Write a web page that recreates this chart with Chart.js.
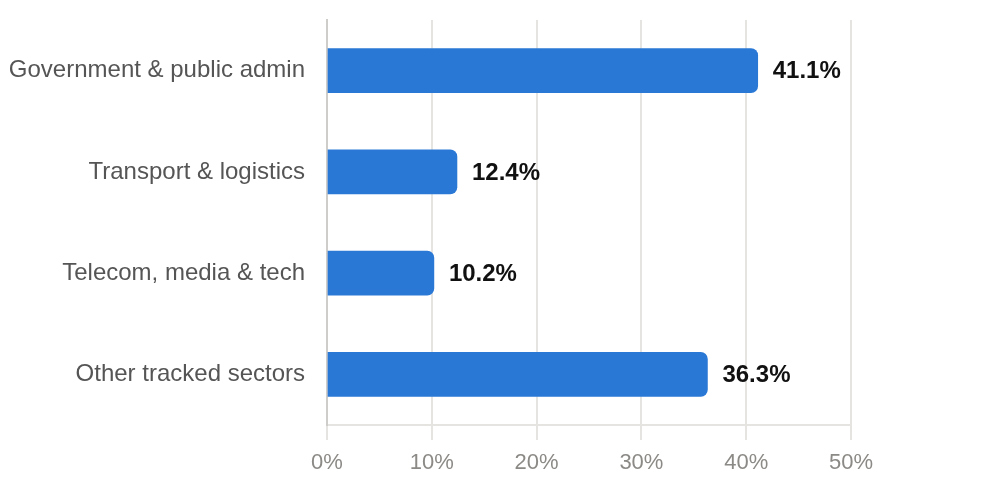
<!DOCTYPE html>
<html>
<head>
<meta charset="utf-8">
<script src="https://cdn.jsdelivr.net/npm/chart.js@4"></script>
<style>
    html, body { margin: 0; padding: 0; background: #ffffff; }
    #wrap { width: 992px; height: 480px; }
</style>
</head>
<body>
<div id="wrap"><canvas id="sectorChart" width="992" height="480"></canvas></div>
<script>
const sectors = ['Government & public admin', 'Transport & logistics', 'Telecom, media & tech', 'Other tracked sectors'];
const shares = [41.1, 12.4, 10.2, 36.3];
const xTicks = [0, 10, 20, 30, 40, 50];

const fontFamily = '"Liberation Sans", Arial, Helvetica, sans-serif';

// draws the bold % label just past the end of each bar
const valueLabels = {
    id: 'valueLabels',
    afterDatasetsDraw(chart) {
        const ctx = chart.ctx;
        const meta = chart.getDatasetMeta(0);
        ctx.save();
        ctx.font = 'bold 24px ' + fontFamily;
        ctx.fillStyle = '#111111';
        ctx.textAlign = 'left';
        ctx.textBaseline = 'middle';
        meta.data.forEach((bar, i) => {
            ctx.fillText(shares[i].toFixed(1) + '%', bar.x + 15, bar.y + 1);
        });
        ctx.restore();
    }
};

const ctx = document.getElementById('sectorChart').getContext('2d');
new Chart(ctx, {
    type: 'bar',
    data: {
        labels: sectors,
        datasets: [{
            data: shares,
            backgroundColor: '#2a78d6',
            borderRadius: 7,
            borderSkipped: 'start',
            barThickness: 44
        }]
    },
    options: {
        indexAxis: 'y',
        responsive: false,
        animation: false,
        layout: { padding: { top: 20, right: 141, bottom: 0, left: 0 } },
        plugins: {
            legend: { display: false },
            tooltip: { enabled: false }
        },
        scales: {
            x: {
                min: 0,
                max: 50,
                afterBuildTicks(scale) {
                    scale.ticks = xTicks.map(v => ({ value: v }));
                },
                afterFit(scale) {
                    scale.height = 55;
                },
                grid: {
                    color: '#e6e4e0',
                    lineWidth: 2,
                    tickLength: 15
                },
                border: { color: '#e6e4e0', width: 2 },
                ticks: {
                    color: '#8c8a86',
                    font: { size: 22, family: fontFamily },
                    padding: 10,
                    callback: v => v + '%'
                }
            },
            y: {
                afterFit(scale) {
                    scale.width = 327;
                    scale.paddingTop = 0;
                    scale.paddingBottom = 0;
                },
                grid: { display: false },
                border: { color: '#cfcdc9', width: 2 },
                ticks: {
                    color: '#555555',
                    font: { size: 24, family: fontFamily },
                    padding: 14
                }
            }
        }
    },
    plugins: [valueLabels]
});
</script>
</body>
</html>
